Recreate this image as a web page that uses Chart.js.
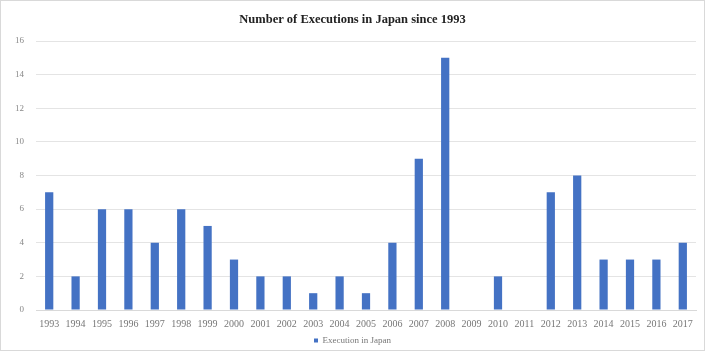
<!DOCTYPE html>
<html>
<head>
<meta charset="utf-8">
<script src="https://cdn.jsdelivr.net/npm/chart.js@4"></script>
<style>
  body { margin: 0; background: #fff; }
  .box { width: 705px; height: 351px; box-sizing: border-box; border: 1px solid #d9d9d9; position: relative; }
  canvas { position: absolute; left: 0; top: 0; }
</style>
</head>
<body>
<div class="box"><canvas id="chartExec" width="703" height="349"></canvas></div>
<script>
var years = ["1993", "1994", "1995", "1996", "1997", "1998", "1999", "2000", "2001", "2002", "2003", "2004", "2005",
  "2006", "2007", "2008", "2009", "2010", "2011", "2012", "2013", "2014", "2015", "2016", "2017"]
var executions = [7, 2, 6, 6, 4, 6, 5, 3, 2, 2, 1, 2, 1, 4, 9, 15, 0, 2, 0, 7, 8, 3, 3, 3, 4]
var yTicks = [0, 2, 4, 6, 8, 10, 12, 14, 16]

var chartExec

function showChartExec() {
  var ctx = document.getElementById('chartExec').getContext('2d');

  chartExec = new Chart(ctx, {
    type: 'bar',
    data: {
      labels: years,
      datasets: [{
        label: "Execution in Japan",
        backgroundColor: '#4472c4',
        borderColor: '#4472c4',
        data: executions,
        barPercentage: 0.6,
        categoryPercentage: 0.52
      }]
    },
    options: {
      responsive: false,
      animation: false,
      layout: {
        padding: { left: 8, right: 8, top: 5, bottom: 0 }
      },
      plugins: {
        title: {
          display: true,
          text: "Number of Executions in Japan since 1993",
          color: '#222',
          font: { family: "Liberation Serif", size: 12.5, weight: 'bold' },
          padding: { top: 6, bottom: 14 }
        },
        legend: {
          position: 'bottom',
          labels: {
            boxWidth: 4,
            boxHeight: 4,
            color: '#777',
            font: { family: "Liberation Serif", size: 9 },
            padding: 2
          }
        },
        tooltip: { enabled: false }
      },
      scales: {
        x: {
          grid: { display: false, drawTicks: false },
          border: { color: '#d9d9d9' },
          afterFit: function(axis) { axis.height = 24 },
          ticks: {
            color: '#777',
            font: { family: "Liberation Serif", size: 10 },
            maxRotation: 0,
            autoSkip: false,
            padding: 8
          }
        },
        y: {
          min: 0,
          max: 16,
          afterBuildTicks: function(axis) {
            axis.ticks = yTicks.map(function(v) { return { value: v } })
          },
          afterFit: function(axis) { axis.width = 27 },
          grid: { color: '#e4e4e4', drawTicks: false },
          border: { display: false },
          ticks: {
            color: '#888',
            font: { family: "Liberation Serif", size: 9 },
            padding: 12
          }
        }
      }
    },
    plugins: [{
      // keep the legend tight to the bottom edge
      id: 'tightLegend',
      beforeInit: function(chart) {
        var fit = chart.legend.fit
        chart.legend.fit = function() {
          fit.call(this)
          this.height = 16
        }
      }
    }]
  });
}

showChartExec()
</script>
</body>
</html>
